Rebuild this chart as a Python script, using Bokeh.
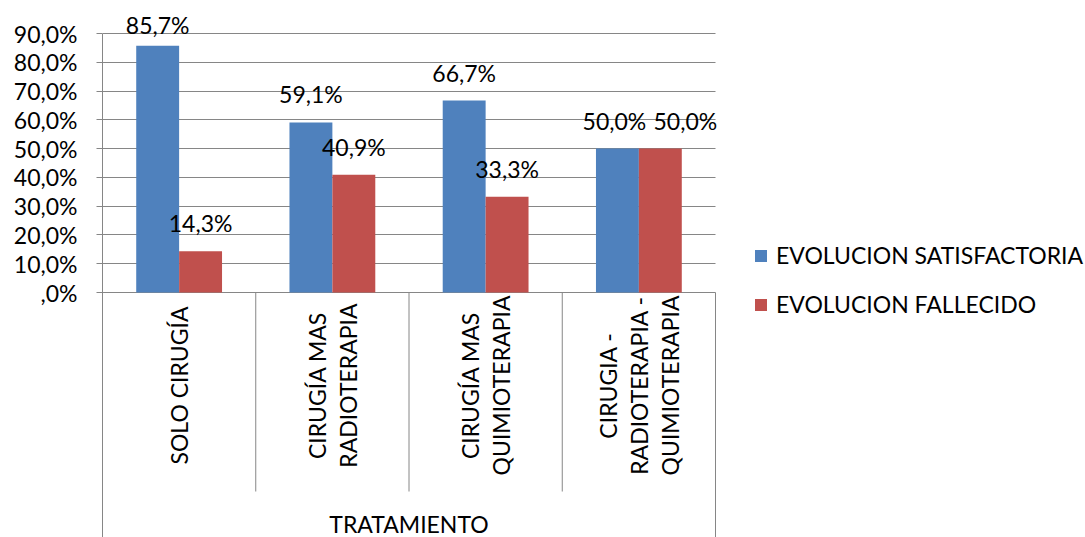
from bokeh.plotting import figure
from bokeh.models import ColumnDataSource, FixedTicker, Legend, LegendItem, Range1d
from bokeh.core.properties import value
from bokeh.embed import file_html
from bokeh.resources import INLINE

# ---- data -------------------------------------------------------------
categories = [
    "SOLO CIRUGÍA",
    "CIRUGÍA MAS\nRADIOTERAPIA",
    "CIRUGÍA MAS\nQUIMIOTERAPIA",
    "CIRUGIA -\nRADIOTERAPIA -\nQUIMIOTERAPIA",
]
satisfactoria = [85.7, 59.1, 66.7, 50.0]
fallecido = [14.3, 40.9, 33.3, 50.0]
series_names = ["EVOLUCION SATISFACTORIA", "EVOLUCION FALLECIDO"]
y_ticks = [0, 10, 20, 30, 40, 50, 60, 70, 80, 90]
y_tick_labels = [",0%", "10,0%", "20,0%", "30,0%", "40,0%", "50,0%",
                 "60,0%", "70,0%", "80,0%", "90,0%"]
axis_title = "TRATAMIENTO"

# ---- style ------------------------------------------------------------
BLUE = "#4F81BD"
RED = "#C0504D"
GRID = "#868686"
FONT = "Lato"
FS = "23px"

W, H = 1085, 537
LEFT = 102
PLOT_W = 613                        # width of the bar area in pixels
ZERO_PX, TOP_PX = 292, 33           # screen rows of 0 % and 90 %
PX_PER_UNIT = (ZERO_PX - TOP_PX) / 90.0
n = len(categories)
PX_PER_CAT = PLOT_W / n


def px_to_y(px):
    """screen row -> data value (frame covers the whole height)"""
    return (ZERO_PX - px) / PX_PER_UNIT


y_top = px_to_y(0)
y_bottom = px_to_y(H)
x_end = (W - LEFT) / PX_PER_CAT     # frame runs on to the right edge

p = figure(width=W, height=H, output_backend="svg", toolbar_location=None,
           x_range=Range1d(0, x_end), y_range=Range1d(y_bottom, y_top),
           min_border_left=LEFT, min_border_right=0,
           min_border_top=0, min_border_bottom=0)
p.outline_line_color = None
p.background_fill_color = "white"
p.border_fill_color = "white"
p.xaxis.visible = False
p.xgrid.visible = False

# y axis
yax = p.yaxis[0]
yax.ticker = FixedTicker(ticks=y_ticks)
yax.major_label_overrides = dict(zip(y_ticks, y_tick_labels))
yax.bounds = (y_bottom, y_ticks[-1])
yax.axis_line_color = GRID
yax.major_tick_line_color = GRID
yax.major_tick_out = 6
yax.major_tick_in = 0
yax.minor_tick_line_color = None
yax.major_label_standoff = 19
yax.major_label_text_font = FONT
yax.major_label_text_font_size = FS
yax.major_label_text_color = "black"

p.ygrid.ticker = FixedTicker(ticks=y_ticks)
p.ygrid.grid_line_color = GRID
p.ygrid.grid_line_width = 1
p.ygrid.cross_bounds = (0, n)

# bars
bar_w = 0.28
centers = [i + 0.5 for i in range(n)]
src = ColumnDataSource(dict(
    xb=[c - bar_w / 2 for c in centers],
    xr=[c + bar_w / 2 for c in centers],
    sat=satisfactoria,
    fal=fallecido,
))
rb = p.vbar(x="xb", top="sat", bottom=0, width=bar_w, source=src,
            fill_color=BLUE, line_color=None)
rr = p.vbar(x="xr", top="fal", bottom=0, width=bar_w, source=src,
            fill_color=RED, line_color=None)


def fmt(v):
    return f"{v:.1f}%".replace(".", ",")


# value labels sit a fixed distance above each bar, but never higher
# than the top of the chart; labels of equal height are pushed apart
LIFT = 28 / PX_PER_UNIT
LABEL_CAP = px_to_y(24)
off_b, off_r = [], []
for s, f in zip(satisfactoria, fallecido):
    if abs(s - f) < 8:
        off_b.append(-3)
        off_r.append(25)
    else:
        off_b.append(0)
        off_r.append(0)

vals = satisfactoria + fallecido
lab = ColumnDataSource(dict(
    x=src.data["xb"] + src.data["xr"],
    y=[min(v + LIFT, LABEL_CAP) for v in vals],
    t=[fmt(v) for v in vals],
    dx=off_b + off_r,
))
p.text(x="x", y="y", text="t", x_offset="dx", source=lab,
       text_align="center", text_baseline="alphabetic",
       text_font=value(FONT), text_font_size=FS, text_color="black")

# category axis: separators, frame lines and rotated labels
p.segment(x0=list(range(1, n)), y0=[0] * (n - 1),
          x1=list(range(1, n)), y1=[px_to_y(491)] * (n - 1),
          line_color=GRID, line_width=1)
p.segment(x0=[n], y0=[0], x1=[n], y1=[y_bottom], line_color=GRID, line_width=1)

p.text(x=centers, y=[px_to_y(385)] * n, text=categories, angle=1.5707963,
       text_align="center", text_baseline="middle", text_line_height=1.1,
       text_font=value(FONT), text_font_size=FS, text_color="black")

p.text(x=[n / 2], y=[px_to_y(523)], text=[axis_title],
       text_align="center", text_baseline="middle",
       text_font=value(FONT), text_font_size=FS, text_color="black")

# legend, to the right of the bars
legend = Legend(items=[LegendItem(label=series_names[0], renderers=[rb]),
                       LegendItem(label=series_names[1], renderers=[rr])],
                location=(651, H - 318), orientation="vertical",
                glyph_width=15, glyph_height=15, label_standoff=8,
                spacing=21, padding=0, margin=0,
                label_text_font=FONT, label_text_font_size=FS,
                label_text_color="black", border_line_color=None,
                background_fill_alpha=0)
p.add_layout(legend, "center")

open("out.html", "w").write(file_html(p, INLINE))
